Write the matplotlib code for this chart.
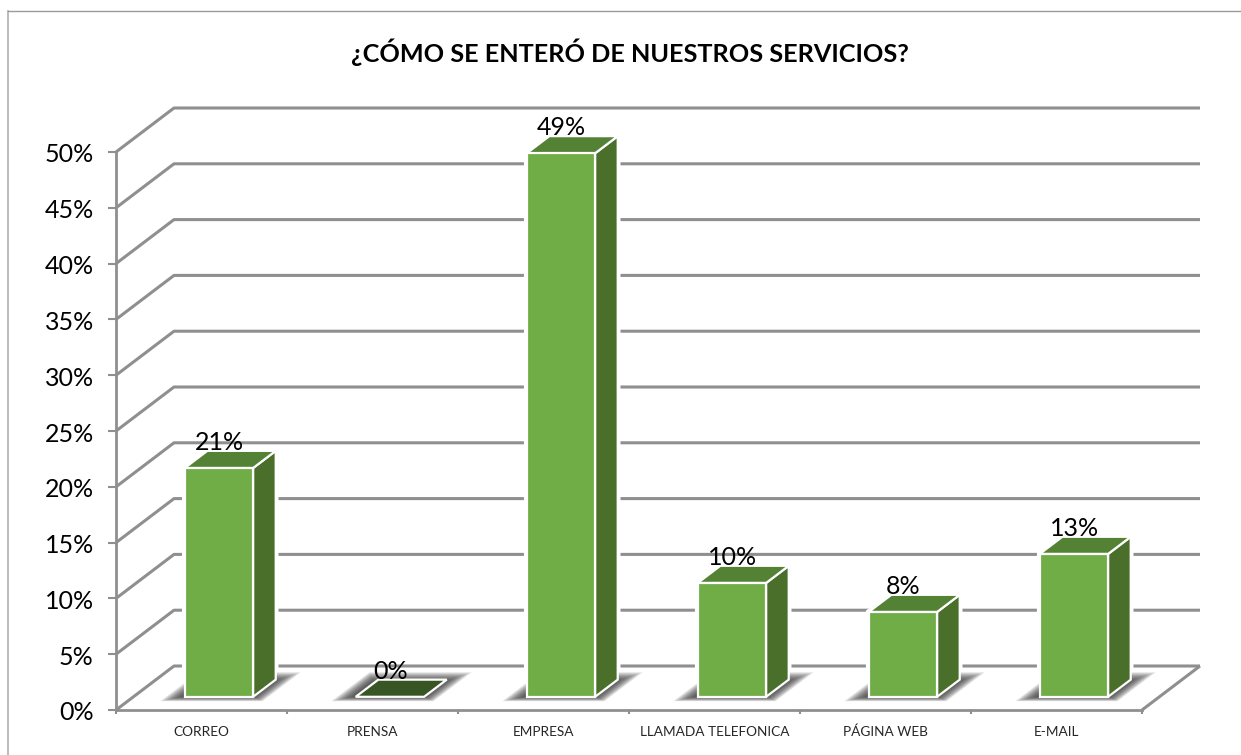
import numpy as np
import matplotlib.pyplot as plt
from matplotlib.patches import Polygon
from matplotlib.transforms import ScaledTranslation

# Data
categories = ['CORREO', 'PRENSA', 'EMPRESA', 'LLAMADA TELEFONICA', 'PÁGINA WEB', 'E-MAIL']
heights = [20.5, 0, 48.7, 10.2, 7.6, 12.8]
bar_labels = ['21%', '0%', '49%', '10%', '8%', '13%']
y_ticks = [0, 5, 10, 15, 20, 25, 30, 35, 40, 45, 50]

GRID = '#8f8f8f'
FRONT = '#70ad47'
TOP = '#548235'
SIDE = '#4a6f2b'
FLAT = '#375623'

W, H = 1241, 755
plt.rcParams['font.family'] = ['Lato', 'DejaVu Sans']

fig = plt.figure(figsize=(W / 100, H / 100), dpi=100)
ax = fig.add_axes([116 / W, 1 - 710 / H, (1142 - 116) / W, (710 - 152) / H])
ax.set_xlim(0, len(categories))
ax.set_ylim(0, 50)
ax.patch.set_visible(False)

# one unit of depth in data units
depth_x = 58 / 171
depth_y = 44 / (558 / 50)


def pt(x, y, d=0.0):
    return (x + d * depth_x, y + d * depth_y)


def line(points, lw=2.2, z=1):
    xs, ys = zip(*points)
    ax.plot(xs, ys, color=GRID, lw=lw, clip_on=False, zorder=z, solid_capstyle='butt')


def poly(points, **kw):
    ax.add_patch(Polygon(points, closed=True, clip_on=False, **kw))


# walls and floor
n = len(categories)
for t in y_ticks:
    line([pt(0, t), pt(0, t, 1), pt(n, t, 1)])
line([pt(n, 0), pt(n, 0, 1)])

ax.spines[['top', 'right']].set_visible(False)
for s in ['left', 'bottom']:
    ax.spines[s].set_color(GRID)
    ax.spines[s].set_linewidth(2.0)
    ax.spines[s].set_zorder(2)

ax.set_yticks(y_ticks)
ax.set_yticklabels([f'{t}%' for t in y_ticks], fontsize=18, color='black')
ax.set_xticks(np.arange(n + 1))
ax.set_xticklabels([])
ax.tick_params(axis='y', color=GRID, width=1.5, length=6, pad=10)
ax.tick_params(axis='x', color=GRID, width=1.5, length=3)
ax.set_xticks(np.arange(n) + 0.5, minor=True)
ax.set_xticklabels(categories, minor=True, fontsize=9.8, color='#262626', va='baseline')
ax.tick_params(axis='x', which='minor', length=0, pad=19)

# y labels sit a little lower than the tick
nudge = ScaledTranslation(0, -1 / 100, fig.dpi_scale_trans)
for tl in ax.get_yticklabels():
    tl.set_transform(tl.get_transform() + nudge)

# bars
bar_w = 0.4
d0, d1 = 0.3, 0.69
for i, (h, lab) in enumerate(zip(heights, bar_labels)):
    x0 = i + 0.5 - bar_w / 2
    x1 = x0 + bar_w

    # white halo where the bar cuts the grid lines
    if h > 0:
        poly([pt(x0, 0, d0), pt(x1, 0, d0), pt(x1, 0, d1), pt(x1, h, d1), pt(x0, h, d1), pt(x0, h, d0)],
             fc='white', ec='white', lw=4, zorder=2.5)

    # soft floor shadow, built from stacked translucent shapes
    for k in np.linspace(0, 1, 16):
        sx0 = x0 - 0.11 + 0.09 * k
        sx1 = x1 + 0.09 - 0.08 * k
        sd0 = 0.2 + 0.1 * k
        sd1 = 0.86 - 0.2 * k
        poly([pt(sx0, 0, sd0), pt(sx1, 0, sd0), pt(sx1, 0, sd1), pt(sx0, 0, sd1)],
             fc='#303030', ec='none', alpha=0.085, zorder=3)

    if h == 0:
        poly([pt(x0, 0, d0), pt(x1, 0, d0), pt(x1, 0, d1), pt(x0, 0, d1)], fc=FLAT, ec='white', lw=1.6, zorder=4)
    else:
        poly([pt(x1, 0, d0), pt(x1, 0, d1), pt(x1, h, d1), pt(x1, h, d0)], fc=SIDE, ec='white', lw=1.6, zorder=4)
        poly([pt(x0, h, d0), pt(x1, h, d0), pt(x1, h, d1), pt(x0, h, d1)], fc=TOP, ec='white', lw=1.6, zorder=4)
        poly([pt(x0, 0, d0), pt(x1, 0, d0), pt(x1, h, d0), pt(x0, h, d0)], fc=FRONT, ec='white', lw=1.6, zorder=5)
    tx, ty = pt(i + 0.5, h, 0.5)
    ax.annotate(lab, (tx, ty), xytext=(-8, 6.5), textcoords='offset points', ha='center', va='baseline',
                fontsize=18, color='black', zorder=6, annotation_clip=False)

# outer chart frame
fig.add_artist(plt.Line2D([7.5 / W, 7.5 / W], [0, 1 - 11 / H], color='#b0b0b0', lw=1.2))
fig.add_artist(plt.Line2D([7.5 / W, 1], [1 - 11 / H, 1 - 11 / H], color='#9a9a9a', lw=1))

fig.text(630 / W, 1 - 52 / H, '¿CÓMO SE ENTERÓ DE NUESTROS SERVICIOS?', ha='center', va='center',
         fontsize=18.2, fontweight='bold', color='black')

plt.savefig('out.png', dpi=100)
